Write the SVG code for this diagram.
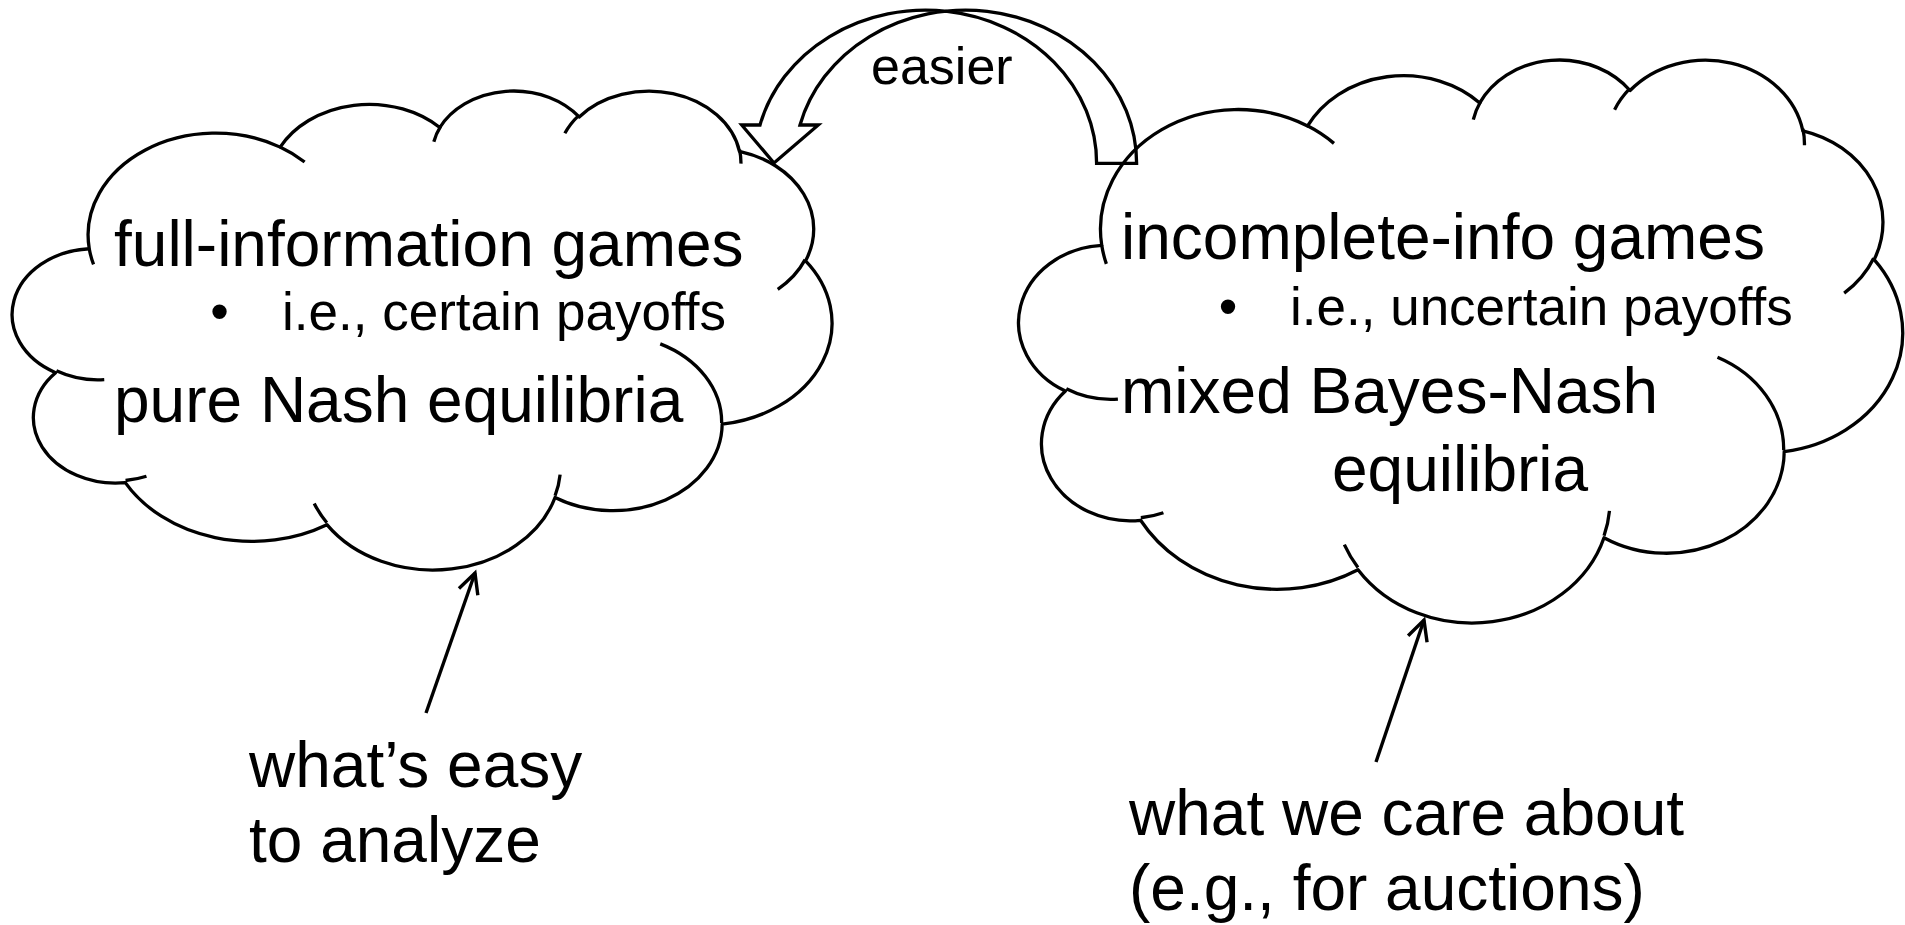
<svg xmlns="http://www.w3.org/2000/svg" xmlns:xlink="http://www.w3.org/1999/xlink" width="1905" height="925" viewBox="0 0 1905 925">
  <style>
    .cloud-body { fill: #ffffff; stroke: #000000; stroke-width: 3.3; stroke-linejoin: round; vector-effect: non-scaling-stroke; }
    .cloud-crease { fill: none; stroke: #000000; stroke-width: 3.3; stroke-linecap: butt; vector-effect: non-scaling-stroke; }
    .txt { font-family: "Liberation Sans", Arial, Helvetica, sans-serif; fill: #000000; }
    .big { font-size: 64px; }
    .small { font-size: 53px; }
    .pointer { fill: none; stroke: #000000; stroke-width: 3.4; }
    .block-arrow { fill: none; stroke: #000000; stroke-width: 3.3; stroke-linejoin: miter; }
  </style>
  <defs>
    <!-- cloud outline drawn on a 43200 x 43200 unit grid -->
    <path id="cloud-shape" class="cloud-body" d="M3900 14370 A6753 9190 0 0 1 14006 5203 A5333 7267 0 0 1 22459 3433 A4365 5945 0 0 1 29837 2482 A4857 6595 0 0 1 38321 5578 A5333 7273 0 0 1 41822 15462 A6775 9220 0 0 1 37406 30202 A5785 7867 0 0 1 28558 36812 A6752 9215 0 0 1 16482 39266 A7720 10543 0 0 1 5808 35473 A4360 5918 0 0 1 2117 25551 A4345 5945 0 0 1 3900 14370 Z"/>
    <!-- short inner arcs where the puffs overlap -->
    <path id="cloud-creases" class="cloud-crease" d="M4693 26177 A4345 5945 0 0 1 2160 25380 M6928 34899 A4360 5918 0 0 1 5819 35281 M16478 39090 A6752 9215 0 0 1 15810 37347 M28827 34751 A6752 9215 0 0 1 28560 36660 M34129 22954 A5785 7867 0 0 1 37380 30090 M41798 15354 A5333 7273 0 0 1 40349 18031 M38324 5426 A4857 6595 0 0 1 38400 6690 M29078 3952 A4857 6595 0 0 1 29820 2339 M22141 4720 A4365 5945 0 0 1 22500 3330 M14000 5192 A6753 9190 0 0 1 15301 6542 M4127 15789 A6753 9190 0 0 1 3900 14370"/>
    <marker id="open-head" viewBox="-24 -13 28 26" markerWidth="28" markerHeight="26" refX="0" refY="0" orient="auto" markerUnits="userSpaceOnUse">
      <path d="M-20,-10 L0,0 L-20,10" fill="none" stroke="#000000" stroke-width="3.4"/>
    </marker>
  </defs>

  <rect x="0" y="0" width="1905" height="925" fill="#ffffff"/>

  <!-- left cloud: complete-information side -->
  <g id="node-full-information">
    <g transform="translate(15.6 89.45) scale(0.018889 0.011084)">
      <use xlink:href="#cloud-shape"/>
      <use xlink:href="#cloud-creases"/>
    </g>
    <text class="txt big" x="114" y="266">full-information games</text>
    <text class="txt small" x="219.5" y="330" text-anchor="middle">•</text>
    <text class="txt small" x="282" y="330">i.e., certain payoffs</text>
    <text class="txt big" x="114" y="422">pure Nash equilibria</text>
  </g>

  <!-- right cloud: incomplete-information side -->
  <g id="node-incomplete-info">
    <g transform="translate(1022.3 58.16) scale(0.020369 0.013027)">
      <use xlink:href="#cloud-shape"/>
      <use xlink:href="#cloud-creases"/>
    </g>
    <text class="txt big" x="1121" y="259">incomplete-info games</text>
    <text class="txt small" x="1228" y="325" text-anchor="middle">•</text>
    <text class="txt small" x="1290" y="325">i.e., uncertain payoffs</text>
    <text class="txt big" x="1121" y="413">mixed Bayes-Nash</text>
    <text class="txt big" x="1332" y="491">equilibria</text>
  </g>

  <!-- caption under the left cloud -->
  <g id="node-easy-caption">
    <text class="txt big" x="249" y="787">what’s easy</text>
    <text class="txt big" x="249" y="862">to analyze</text>
  </g>

  <!-- caption under the right cloud -->
  <g id="node-care-caption">
    <text class="txt big" x="1129" y="835">what we care about</text>
    <text class="txt big" x="1129" y="910">(e.g., for auctions)</text>
  </g>

  <g id="connectors">
    <line class="pointer" x1="426" y1="713" x2="475" y2="573" marker-end="url(#open-head)"/>
    <line class="pointer" x1="1376" y1="762" x2="1424" y2="620" marker-end="url(#open-head)"/>
    <!-- curved block arrow from the right cloud back to the left cloud -->
    <g id="easier-arrow">
      <path class="block-arrow" d="M1096.6 163.3 L1136.6 163.3 A171 153 0 0 0 800 125 L818.3 125 L774 163 L741.7 125 L760 125 A171 153 0 0 1 1096.6 163.3 Z"/>
      <text class="txt" font-size="52" x="871" y="84">easier</text>
    </g>
  </g>
</svg>
